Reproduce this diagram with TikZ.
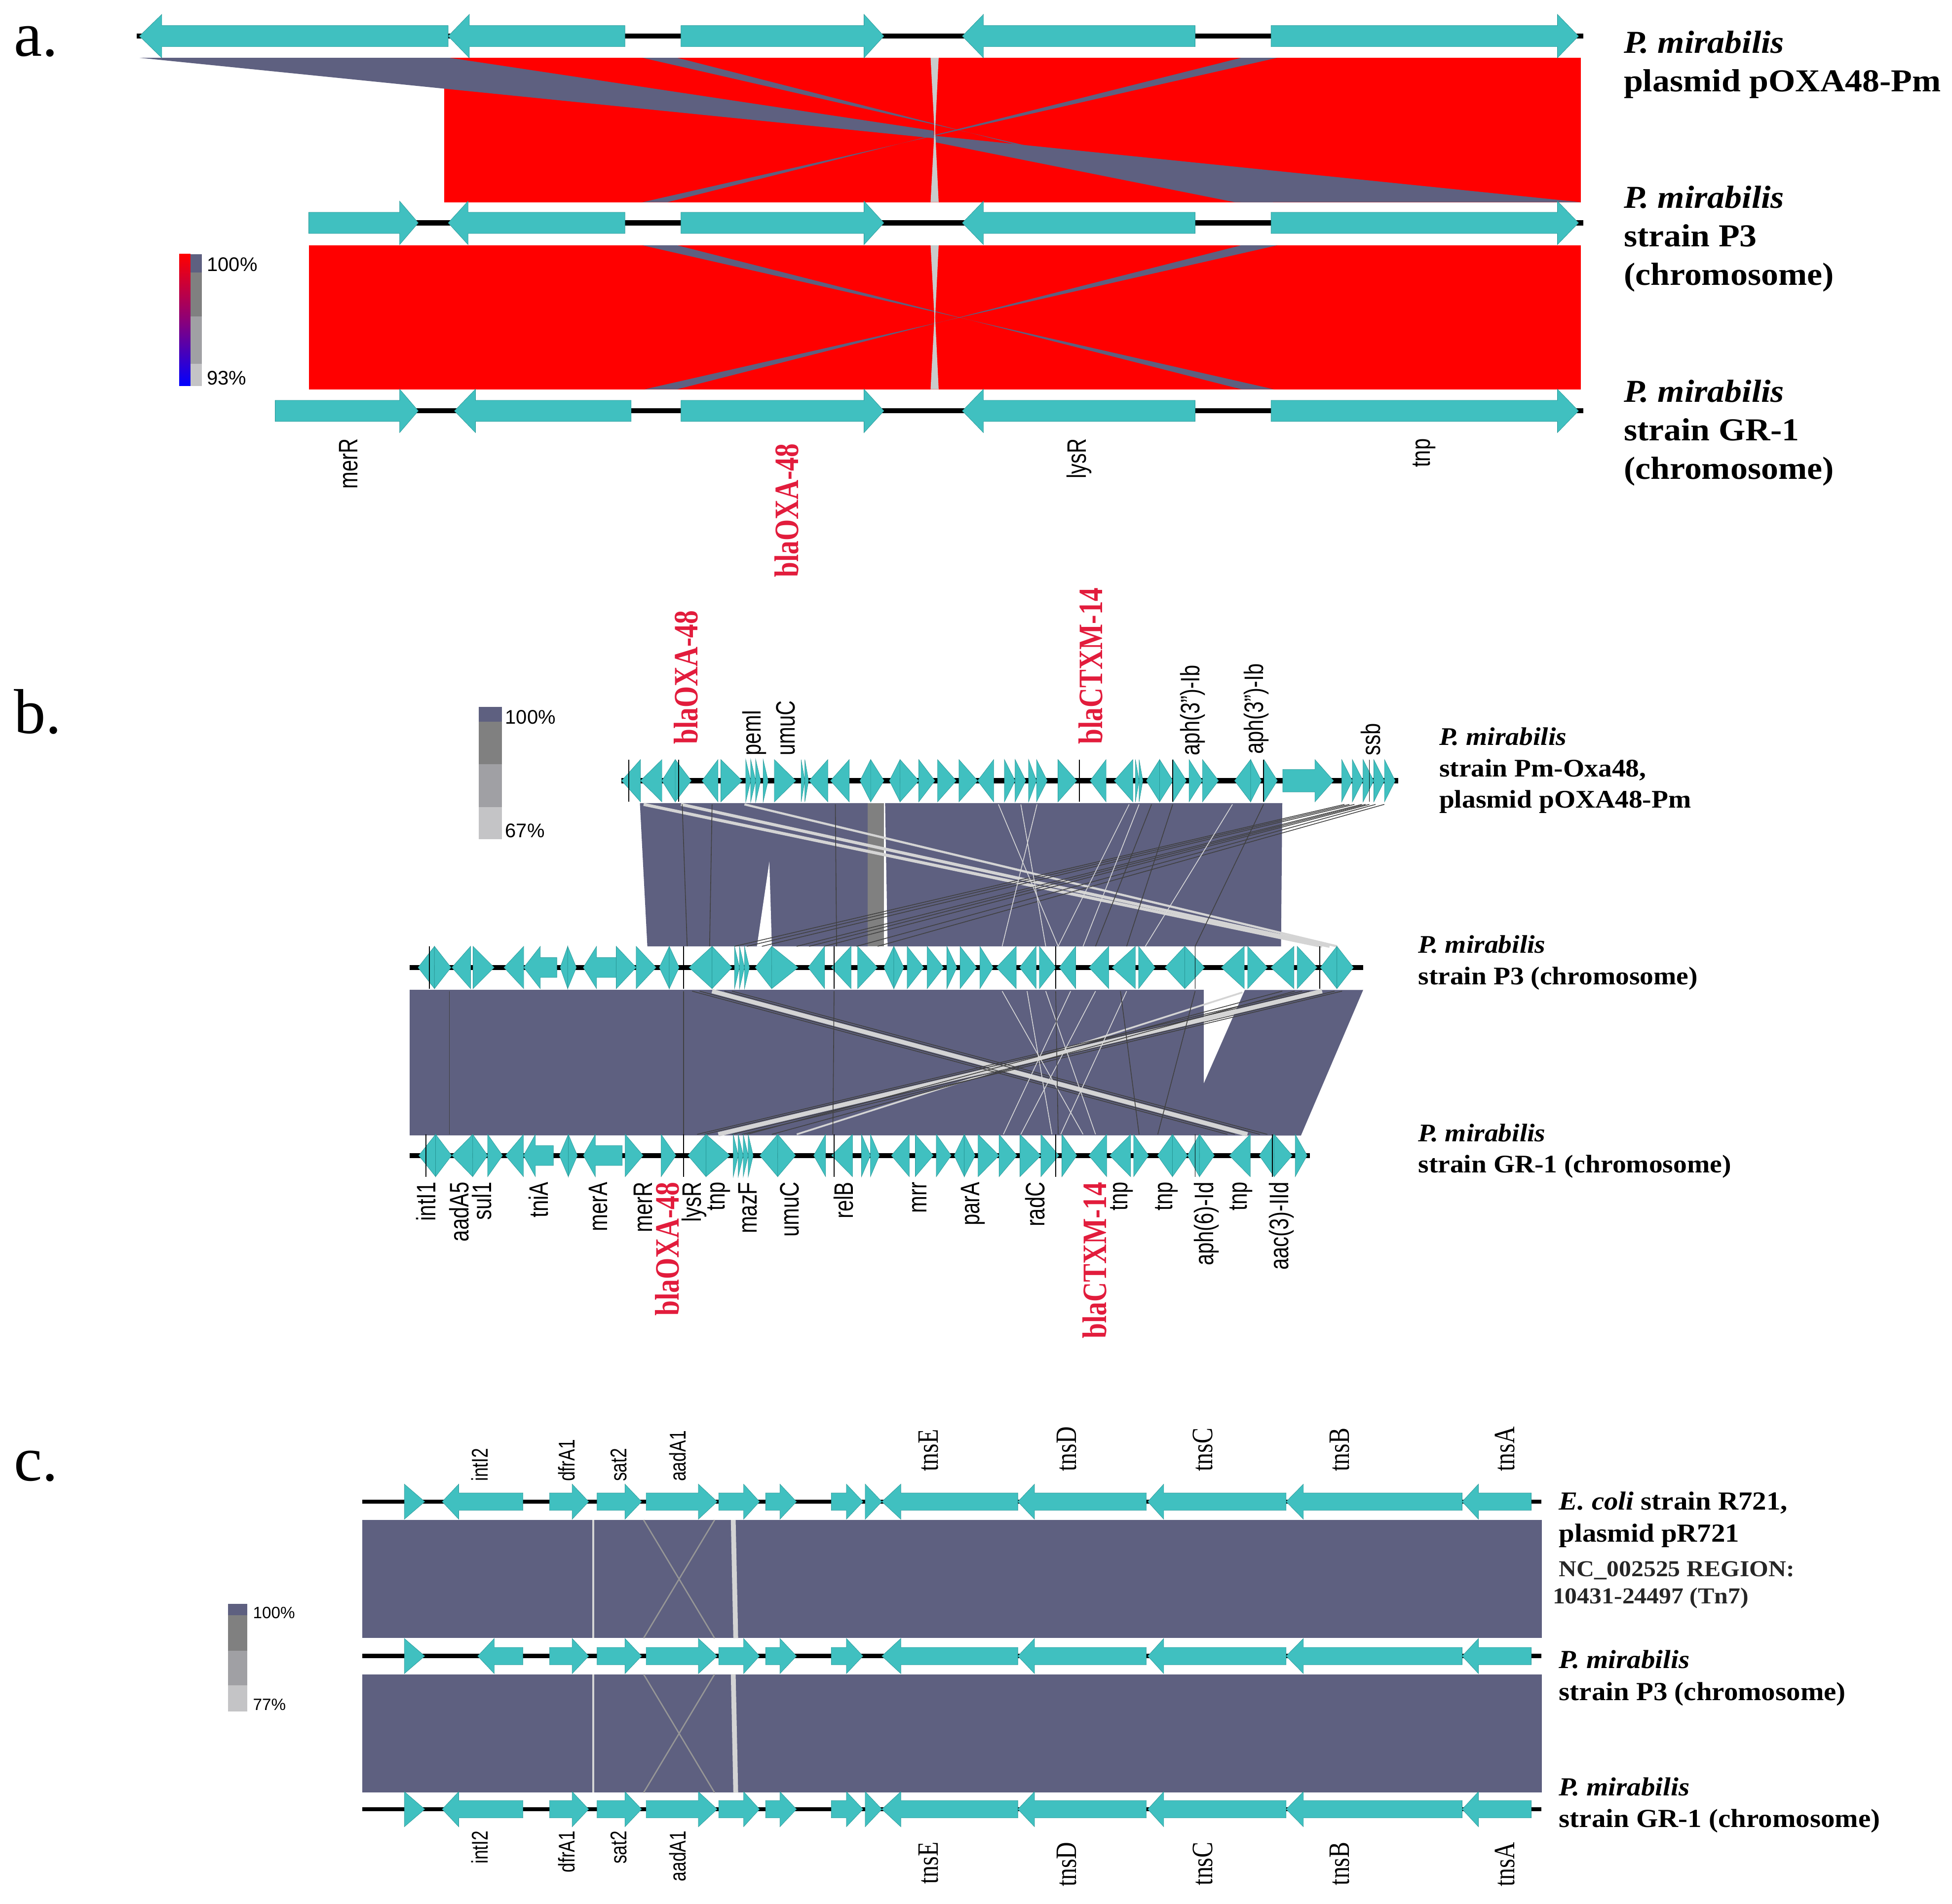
\documentclass[tikz,border=0pt]{standalone}
\usepackage{fontspec}
\setmainfont{Liberation Serif}
\setsansfont{Liberation Sans}
\definecolor{genecol}{RGB}{64,192,192}
\definecolor{geneedge}{RGB}{38,150,150}
\definecolor{hitcol}{RGB}{94,96,128}
\definecolor{idred}{RGB}{255,0,0}
\definecolor{labred}{RGB}{226,28,60}
\definecolor{gapgrey}{RGB}{200,204,204}
\definecolor{legA}{RGB}{128,128,128}
\definecolor{legB}{RGB}{160,160,164}
\definecolor{legC}{RGB}{196,196,198}
\definecolor{litegrey}{RGB}{212,212,212}
\definecolor{midgrey}{RGB}{150,150,150}

\def\headh{17.5}
\newcommand{\garr}[5]{%
  \filldraw[gene] (#1,#4-#5) -- (#2,#4-#5) -- (#2,#4-\headh) -- (#3,#4)
    -- (#2,#4+\headh) -- (#2,#4+#5) -- (#1,#4+#5) -- cycle;}
\newcommand{\gtri}[3]{%
  \filldraw[gene] (#1,#3-\headh) -- (#2,#3) -- (#1,#3+\headh) -- cycle;}

\tikzset{
  gene/.style={fill=genecol, draw=geneedge, line width=0.15pt},
  track/.style={line width=2.3pt},
  trackc/.style={line width=2pt},
  hit/.style={fill=hitcol},
  litehit/.style={draw=litegrey, line width=1.4pt},
  darkhit/.style={draw=black!75, line width=0.35pt},
  whitehit/.style={draw=white!85!black, line width=0.35pt},
  midhit/.style={draw=midgrey, line width=0.6pt},
  glab/.style={font=\sffamily\fontsize{9.4}{11}\selectfont, inner sep=0pt, xscale=1.3, rotate=90},
  glabr/.style={font=\rmfamily\bfseries\fontsize{12.5}{14}\selectfont, text=labred, inner sep=0pt, xscale=1.25, rotate=90},
  glabc/.style={font=\sffamily\fontsize{8}{10}\selectfont, inner sep=0pt, xscale=1.3, rotate=90},
  glabt/.style={font=\rmfamily\fontsize{10.8}{12}\selectfont, inner sep=0pt, xscale=1.25, rotate=90},
  orgA/.style={font=\bfseries\fontsize{14.6}{17.6}\selectfont, inner sep=0pt, xscale=1.08, anchor=base west},
  orgB/.style={font=\bfseries\fontsize{11.6}{14.3}\selectfont, inner sep=0pt, xscale=1.08, anchor=base west},
  orgC/.style={font=\bfseries\fontsize{11.9}{14.5}\selectfont, inner sep=0pt, xscale=1.08, anchor=base west},
  orgN/.style={font=\bfseries\fontsize{10.4}{11}\selectfont, text=black!85, inner sep=0pt, xscale=1.08, anchor=base west},
  legtxt/.style={font=\sffamily\fontsize{9}{10}\selectfont, inner sep=0pt, anchor=base west},
  panel/.style={font=\fontsize{29}{30}\selectfont, inner sep=0pt, anchor=base west}
}

\begin{document}
\begin{tikzpicture}[x=0.02cm, y=-0.02cm]
\fill[white] (0,0) rectangle (1568,1529);
\useasboundingbox (0,0) rectangle (1568,1529);

% a.
\node[panel] (pa) at (11,45) {a.};
\fill[idred] (357,46.4) rectangle (1270,162.4);
\fill[idred] (248,197) rectangle (1270,312.6);
\fill[hit] (112,46.4) -- (361,46.4) -- (750,105) -- (750,111) -- cycle;
\fill[hit] (750,109) -- (1270,162.4) -- (992,162.4) -- (750,114) -- cycle;
\fill[hit] (516,46.4) -- (544,46.4) -- (997,162.4) -- (1023,162.4) -- cycle;
\fill[hit] (997,46.4) -- (1026,46.4) -- (516,162.4) -- (536,162.4) -- cycle;
\fill[hit] (516,197) -- (544,197) -- (997,312.6) -- (1023,312.6) -- cycle;
\fill[hit] (997,197) -- (1026,197) -- (518,312.6) -- (544,312.6) -- cycle;
\fill[gapgrey] (747.5,46.4) -- (754,46.4) -- (751.2,104.4) -- (754,162.4) -- (747.5,162.4) -- (750.6,104.4) -- cycle;
\fill[gapgrey] (747.5,197) -- (754,197) -- (751.2,254.8) -- (754,312.6) -- (747.5,312.6) -- (750.6,254.8) -- cycle;

\draw[track] (110,29) -- (1272,29);
\draw[track] (248,179) -- (1272,179);
\draw[track] (221,330) -- (1272,330);
\garr{360}{130}{112}{29}{8.5}
\garr{502}{377}{360}{29}{8.5}
\garr{248}{321}{336}{179}{8.5}
\garr{502}{376}{360}{179}{8.5}
\garr{221}{321}{336}{330}{8.5}
\garr{507}{382}{365}{330}{8.5}
\foreach \y in {29,179,330} {
  \garr{547}{694}{710}{\y}{8.5}
  \garr{960}{790}{773}{\y}{8.5}
  \garr{1021}{1251}{1268}{\y}{8.5}
}

\shade[top color=idred, bottom color=blue, middle color={rgb,255:red,140;green,0;blue,120}] (144,204) rectangle (153,310);
\fill[hitcol] (153,204) rectangle (162,219);
\fill[legA] (153,219) rectangle (162,254);
\fill[legB] (153,254) rectangle (162,292);
\fill[legC] (153,292) rectangle (162,310);
\node[legtxt] (a100) at (166,218) {100\%};
\node[legtxt] (a93) at (166,309) {93\%};

\node[glab, anchor=east] (amerR) at (280,352) {merR};
\node[glabr, anchor=east] (aoxa) at (632,356) {blaOXA-48};
\node[glab, anchor=east] (alysR) at (867,352) {lysR};
\node[glab, anchor=east] (atnp) at (1144,352) {tnp};

\node[orgA] (aorg1) at (1304,42.5) {\begin{tabular}[t]{@{}l@{}}\textit{P. mirabilis}\\ plasmid pOXA48-Pm\end{tabular}};
\node[orgA] (aorg2) at (1304,167) {\begin{tabular}[t]{@{}l@{}}\textit{P. mirabilis}\\ strain P3\\ (chromosome)\end{tabular}};
\node[orgA] (aorg3) at (1304,323) {\begin{tabular}[t]{@{}l@{}}\textit{P. mirabilis}\\ strain GR-1\\ (chromosome)\end{tabular}};

% b.
\node[panel] (pb) at (11,589) {b.};
\fill[hit] (514,645) -- (697,645) -- (697,760) -- (520,760) -- cycle;
\fill[white] (608,760) -- (620,760) -- (618,692) -- cycle;
\fill[legA] (697,645) rectangle (710,760);
\fill[hit] (711,645) -- (1030,645) -- (1029,760) -- (713,760) -- cycle;
\draw[litehit] (517,646) -- (1062,760);
\draw[litehit] (547,646) -- (1068,760);
\draw[litehit, line width=1pt] (598,646) -- (1074,760);
\foreach \s/\e in {1080/590, 1084/600, 1088/612, 1094/640, 1097/650, 1100/662, 1105/688, 1112/705}
  \draw[darkhit] (\s,646) -- (\e,760);
\foreach \s/\e in {802/850, 833/805, 907/850, 915/870, 990/920, 820/840}
  \draw[whitehit] (\s,646) -- (\e,760);
\foreach \s/\e in {548/552, 572/570, 671/672, 942/905, 1015/960, 925/880}
  \draw[darkhit] (\s,646) -- (\e,760);

\fill[hit] (329,795) rectangle (967,912);
\fill[hit] (1000,795) -- (1095,795) -- (1045,912) -- (967,912) -- (967,870) -- cycle;
\draw[litehit, line width=2pt] (572,796) -- (1002,911);
\draw[litehit, line width=2pt] (1062,796) -- (577,911);
\draw[litehit, line width=0.8pt] (998,797) -- (640,911);
\foreach \s/\e in {556/986, 562/992, 582/1012, 588/1018, 1046/560, 1052/566, 1072/588, 1078/596, 1040/620, 1030/600}
  \draw[darkhit] (\s,796) -- (\e,911);
\foreach \s/\e in {805/870, 860/806, 825/845, 880/820, 905/852, 840/880}
  \draw[whitehit] (\s,796) -- (\e,911);
\foreach \s/\e in {361/361, 549/549, 670/669, 848/850, 960/930, 900/915}
  \draw[darkhit] (\s,796) -- (\e,911);

\def\headh{17}
\draw[track] (499,627) -- (1123,627);
\draw[track] (329,777) -- (1095,777);
\draw[track] (329,928) -- (1052,928);
\foreach \b/\t in {514.5/499.4, 531.7/514.5, 542.4/531.7, 542.4/555.3, 576.8/563.9, 579/596.2, 599/603, 603/607, 607/611, 613/617, 622/639.2, 643.5/646.5, 646.5/649.5, 665/649.9, 682.2/667.1, 699.4/690.8, 699.4/710.1, 723/714.4, 723/738, 738/751, 753.1/768.1, 770.3/785.3, 798.2/785.3, 806.8/815.4, 815.4/824, 826.2/832.6, 832.6/841.2, 849.8/864.9, 888.5/875.6, 910/895, 912/915, 915/918, 931.5/920.8, 931.5/942.2, 942.2/953, 955.1/965.9, 965.9/978.8, 1004.6/991.7, 1004.6/1013.2, 1015.3/1026.1, 1077.7/1086.3, 1086.3/1094.9, 1094.9/1103.5, 1103.5/1112.1, 1112.1/1120.7}
  {\gtri{\b}{\t}{627}}
\garr{1030.4}{1056.2}{1071.2}{627}{9}
\foreach \b/\t in {349/335.8, 349/362.3, 378/363, 380/397, 420.7/404.8, 456/450, 456/463, 495/511, 511/527, 537.6/529.6, 537.6/545.5, 572/553.5, 572/588, 590/594, 594/598, 598/602, 619.9/606.6, 619.9/641.1, 662.4/649.1, 683.6/667.7, 688.9/704.8, 718/710, 718/726, 728.7/742, 744.7/757.9, 760.6/768.6, 771.2/784.5, 787.1/797.8, 816.3/800.4, 832.3/819, 834.9/848.2, 864.1/850.9, 890.7/874.8, 912/893.3, 914.6/927.9, 951.7/935.8, 951.7/967.7, 999.5/981, 1002.2/1018.1, 1039.4/1020.8, 1042/1057.9, 1073.9/1060.6, 1073.9/1087.2}
  {\gtri{\b}{\t}{777}}
\garr{447.3}{434}{420.7}{777}{8}
\garr{495}{479.2}{468.5}{777}{8}
\foreach \b/\t in {349.9/336.4, 349.9/362.8, 379.7/363, 379.7/391.7, 391.7/403.7, 420.5/406.1, 456.5/449.3, 456.5/463.8, 502.2/516.6, 531/543, 567.1/552.6, 567.1/586.3, 589/593, 593/597, 597/601, 601/605, 624.7/610.3, 624.7/639.1, 663.2/653.6, 684.8/668, 692/699.2, 699.2/706.4, 730.4/716, 735.2/749.7, 752.1/764.1, 774.6/766.5, 774.6/783.3, 785.7/802.5, 802.5/816.9, 819.3/836.1, 836.1/850.6, 853/865, 889/874.6, 908.2/891.4, 910.6/922.6, 941.8/929.8, 941.8/953.9, 963.5/953.9, 963.5/975.5, 1004.3/987.5, 1023.5/1011.5, 1023.5/1038, 1040.4/1050}
  {\gtri{\b}{\t}{928}}
\garr{444.5}{430.1}{420.5}{928}{8}
\garr{499.8}{478.2}{468.6}{928}{8}
\foreach \x in {505, 545, 867, 942, 1015, 1100}
  \draw[line width=0.4pt] (\x,610) -- (\x,644);
\foreach \x in {345, 549, 670, 848, 960, 1060}
  \draw[line width=0.4pt] (\x,760) -- (\x,794);
\foreach \x in {342, 549, 670, 848, 960, 1022}
  \draw[line width=0.4pt] (\x,911) -- (\x,945);

\fill[hitcol] (384.6,567.7) rectangle (403.1,579.5);
\fill[legA] (384.6,579.5) rectangle (403.1,613.8);
\fill[legB] (384.6,613.8) rectangle (403.1,648.2);
\fill[legC] (384.6,648.2) rectangle (403.1,674);
\node[legtxt] (b100) at (405.5,581.5) {100\%};
\node[legtxt] (b67) at (405.5,672.7) {67\%};

\node[glabr, anchor=west] (boxa1) at (551,598) {blaOXA-48};
\node[glab, anchor=west] (bpem) at (606,607) {pemI};
\node[glab, anchor=west] (bumu1) at (631,607) {umuC};
\node[glabr, anchor=west] (bctx1) at (876,598) {blaCTXM-14};
\node[glab, anchor=west] (baph1) at (958,607) {aph(3")-Ib};
\node[glab, anchor=west] (baph2) at (1009,606) {aph(3")-Ib};
\node[glab, anchor=west] (bssb) at (1101,607) {ssb};
\foreach \x/\g [count=\i] in {342.2/intI1, 368.6/aadA5, 386.9/sul1, 432.5/tniA, 480.6/merA, 516.6/merR, 557.5/lysR, 577.6/tnp, 600.7/mazF, 634.3/umuC, 677.6/relB, 738.6/mrr, 781.8/parA, 831.3/radC, 901/tnp, 937/tnp, 969.2/aph(6)-Id, 997/tnp, 1029.3/aac(3)-IId}
  \node[glab, anchor=east] (bgene\i) at (\x,949) {\g};
\node[glabr, anchor=east] (boxa2) at (535.8,949) {blaOXA-48};
\node[glabr, anchor=east] (bctx2) at (879.4,949) {blaCTXM-14};

\node[orgB] (borg1) at (1155.7,598.6) {\begin{tabular}[t]{@{}l@{}}\textit{P. mirabilis}\\ strain Pm-Oxa48,\\ plasmid pOXA48-Pm\end{tabular}};
\node[orgB] (borg2) at (1138.8,765.5) {\begin{tabular}[t]{@{}l@{}}\textit{P. mirabilis}\\ strain P3 (chromosome)\end{tabular}};
\node[orgB] (borg3) at (1138.8,916.7) {\begin{tabular}[t]{@{}l@{}}\textit{P. mirabilis}\\ strain GR-1 (chromosome)\end{tabular}};

% c.
\node[panel] (pc) at (11,1189) {c.};
\fill[hit] (291,1220.7) rectangle (1238.5,1315.6);
\fill[hit] (291,1344.6) rectangle (1238.5,1439.7);
\foreach \ya/\yb in {1220.7/1315.6, 1344.6/1439.7} {
  \draw[litehit, line width=0.9pt] (476.6,\ya) -- (476.6,\yb);
  \draw[litehit, line width=2.2pt] (589,\ya) -- (591,\yb);
  \draw[midhit] (517,\ya) -- (574,\yb);
  \draw[midhit] (574,\ya) -- (517,\yb);
}

\def\headh{14.1}
\foreach \y in {1206,1330,1453} {
  \draw[trackc] (291,\y) -- (1238,\y);
  \gtri{324.8}{341.2}{\y}
  \garr{441.4}{459.6}{472.9}{\y}{7}
  \garr{479.6}{502}{515.4}{\y}{7}
  \garr{519}{561}{576.1}{\y}{7}
  \garr{577.3}{597.3}{610.1}{\y}{7}
  \garr{615}{626.5}{639.8}{\y}{7}
  \garr{667.7}{679.9}{693.2}{\y}{7}
  \garr{817.6}{723.6}{708.4}{\y}{7}
  \garr{920.8}{831}{817.6}{\y}{7}
  \garr{1033.1}{934.8}{922}{\y}{7}
  \garr{1174.5}{1047}{1033.1}{\y}{7}
  \garr{1230}{1187.6}{1174.5}{\y}{7}
}
\foreach \y in {1206,1453} {
  \garr{420.1}{368.5}{355.2}{\y}{7}
  \gtri{695}{708.4}{\y}
}
\garr{420.1}{397}{383.7}{1330}{7}

\fill[hitcol] (183.1,1288) rectangle (198.5,1297.2);
\fill[legA] (183.1,1297.2) rectangle (198.5,1325.6);
\fill[legB] (183.1,1325.6) rectangle (198.5,1353.4);
\fill[legC] (183.1,1353.4) rectangle (198.5,1374.5);
\node[legtxt, font=\sffamily\fontsize{7.5}{9}\selectfont] (c100) at (202.9,1299.9) {100\%};
\node[legtxt, font=\sffamily\fontsize{7.5}{9}\selectfont] (c77) at (202.9,1373.7) {77\%};

\foreach \x/\g in {385.5/intI2, 455.3/dfrA1, 497.2/sat2, 544.5/aadA1} {
  \node[glabc, anchor=west] (ct\g) at (\x,1190) {\g};
  \node[glabc, anchor=east] (cb\g) at (\x,1470) {\g};
}
\foreach \x/\g in {746/tnsE, 857/tnsD, 966/tnsC, 1076/tnsB, 1209/tnsA} {
  \node[glabt, anchor=west] (ct\g) at (\x,1182) {\g};
  \node[glabt, anchor=east] (cb\g) at (\x,1479) {\g};
}

\node[orgC] (corg1) at (1251.9,1212.7) {\begin{tabular}[t]{@{}l@{}}\textit{E. coli} strain R721,\\ plasmid pR721\end{tabular}};
\node[orgN] (cnc) at (1251.9,1266.2) {NC\_002525 REGION:};
\node[orgN] (creg) at (1246.9,1287.9) {10431-24497 (Tn7)};
\node[orgC] (corg2) at (1251.9,1340) {\begin{tabular}[t]{@{}l@{}}\textit{P. mirabilis}\\ strain P3 (chromosome)\end{tabular}};
\node[orgC] (corg3) at (1251.9,1441.9) {\begin{tabular}[t]{@{}l@{}}\textit{P. mirabilis}\\ strain GR-1 (chromosome)\end{tabular}};
\end{tikzpicture}
\end{document}
